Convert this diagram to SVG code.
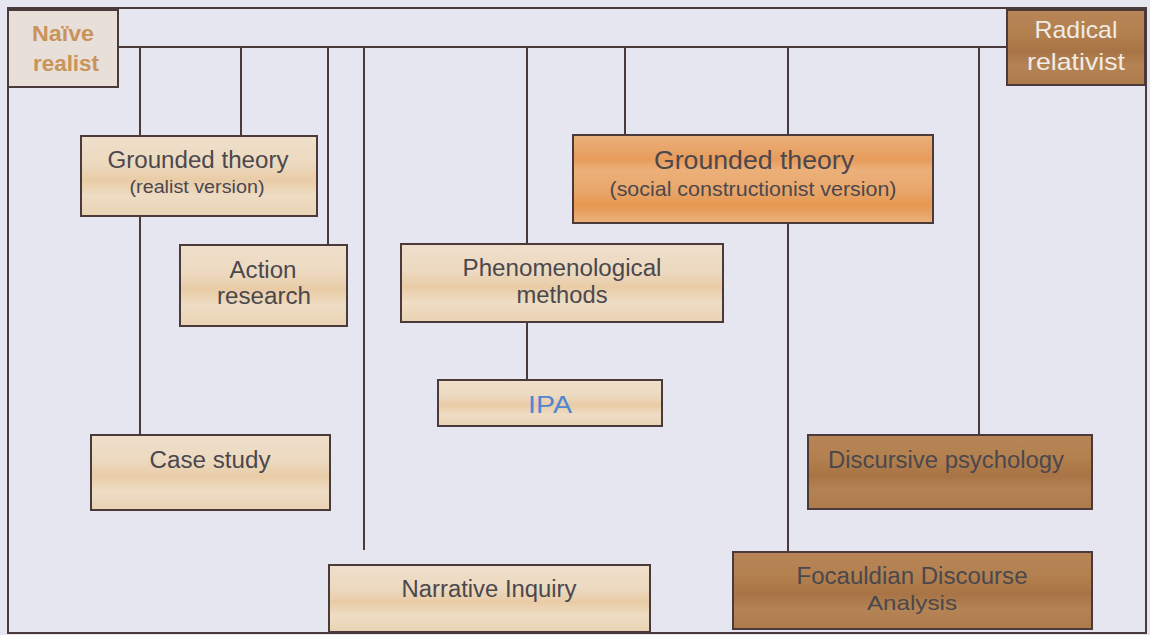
<svg xmlns="http://www.w3.org/2000/svg" width="1150" height="635" viewBox="0 0 1150 635">
  <defs>
    <!-- banded fills for the three box tones -->
    <linearGradient id="gLight" x1="0" y1="0" x2="0" y2="1">
      <stop offset="0" stop-color="#efdfca"/>
      <stop offset="0.35" stop-color="#ecd9c0"/>
      <stop offset="0.55" stop-color="#e9cca6"/>
      <stop offset="0.75" stop-color="#eedcc4"/>
      <stop offset="1" stop-color="#ead3b4"/>
    </linearGradient>
    <linearGradient id="gOrange" x1="0" y1="0" x2="0" y2="1">
      <stop offset="0" stop-color="#eab07c"/>
      <stop offset="0.28" stop-color="#e79c5c"/>
      <stop offset="0.4" stop-color="#ecb07a"/>
      <stop offset="0.62" stop-color="#e9a76c"/>
      <stop offset="0.8" stop-color="#e6984f"/>
      <stop offset="1" stop-color="#eab27e"/>
    </linearGradient>
    <linearGradient id="gBrown" x1="0" y1="0" x2="0" y2="1">
      <stop offset="0" stop-color="#b88558"/>
      <stop offset="0.3" stop-color="#b3804f"/>
      <stop offset="0.55" stop-color="#a87445"/>
      <stop offset="0.75" stop-color="#b58454"/>
      <stop offset="1" stop-color="#ad7a4a"/>
    </linearGradient>
    <style>
      .box { stroke: #4a3a3c; stroke-width: 2; }
      .light { fill: url(#gLight); }
      .orange { fill: url(#gOrange); }
      .brown { fill: url(#gBrown); }
      .wire { stroke: #4a3a3c; stroke-width: 2; fill: none; }
      text { font-family: "Liberation Sans", Arial, sans-serif; text-anchor: middle; fill: #4b484d; }
      .t23 { font-size: 23px; }
      .t17 { font-size: 17.5px; }
      .t21 { font-size: 21px; }
      .pale { fill: #f1ebe6; font-size: 24px; }
      .naive { fill: #c9935a; font-size: 22px; font-weight: bold; }
    </style>
  </defs>

  <rect width="1150" height="635" fill="#e5e6f0"/>

  <!-- frame and connector lines -->
  <g id="connectors" class="wire">
    <rect x="8" y="8" width="1138" height="625"/>
    <line x1="118" y1="47" x2="1007" y2="47"/>
    <line x1="140" y1="47" x2="140" y2="136"/>
    <line x1="140" y1="216" x2="140" y2="435"/>
    <line x1="241" y1="47" x2="241" y2="136"/>
    <line x1="328" y1="47" x2="328" y2="245"/>
    <line x1="364" y1="47" x2="364" y2="550"/>
    <line x1="527" y1="47" x2="527" y2="244"/>
    <line x1="527" y1="322" x2="527" y2="380"/>
    <line x1="625" y1="47" x2="625" y2="135"/>
    <line x1="788" y1="47" x2="788" y2="135"/>
    <line x1="788" y1="223" x2="788" y2="552"/>
    <line x1="979" y1="47" x2="979" y2="435"/>
  </g>

  <g id="naive-realist">
    <rect class="box" x="8" y="10" width="110" height="77" fill="#e7dfd8"/>
    <text x="63" y="41" class="naive" textLength="62" lengthAdjust="spacingAndGlyphs">Naïve</text>
    <text x="66" y="71" class="naive" textLength="66" lengthAdjust="spacingAndGlyphs">realist</text>
  </g>

  <g id="radical-relativist">
    <rect class="box brown" x="1007" y="10" width="138" height="75"/>
    <text x="1076" y="38" class="pale" textLength="83" lengthAdjust="spacingAndGlyphs">Radical</text>
    <text x="1076" y="70" class="pale" textLength="98" lengthAdjust="spacingAndGlyphs">relativist</text>
  </g>

  <g id="grounded-realist">
    <rect class="box light" x="81" y="136" width="236" height="80"/>
    <text x="198" y="168" class="t23" textLength="181" lengthAdjust="spacingAndGlyphs">Grounded theory</text>
    <text x="197" y="193" class="t17" textLength="135" lengthAdjust="spacingAndGlyphs">(realist version)</text>
  </g>

  <g id="action-research">
    <rect class="box light" x="180" y="245" width="167" height="81"/>
    <text x="263" y="278" class="t23" textLength="67" lengthAdjust="spacingAndGlyphs">Action</text>
    <text x="264" y="304" class="t23" textLength="94" lengthAdjust="spacingAndGlyphs">research</text>
  </g>

  <g id="phenomenological">
    <rect class="box light" x="401" y="244" width="322" height="78"/>
    <text x="562" y="276" class="t23" textLength="199" lengthAdjust="spacingAndGlyphs">Phenomenological</text>
    <text x="562" y="303" class="t23" textLength="91" lengthAdjust="spacingAndGlyphs">methods</text>
  </g>

  <g id="grounded-social">
    <rect class="box orange" x="573" y="135" width="360" height="88"/>
    <text x="754" y="169" style="font-size:26px" textLength="200" lengthAdjust="spacingAndGlyphs">Grounded theory</text>
    <text x="753" y="196" class="t21" textLength="287" lengthAdjust="spacingAndGlyphs">(social constructionist version)</text>
  </g>

  <g id="ipa">
    <rect class="box light" x="438" y="380" width="224" height="46"/>
    <text x="550" y="413" style="font-size:24px;fill:#4f86d4" textLength="44" lengthAdjust="spacingAndGlyphs">IPA</text>
  </g>

  <g id="case-study">
    <rect class="box light" x="91" y="435" width="239" height="75"/>
    <text x="210" y="468" class="t23" textLength="121" lengthAdjust="spacingAndGlyphs">Case study</text>
  </g>

  <g id="narrative-inquiry">
    <rect class="box light" x="329" y="565" width="321" height="67"/>
    <text x="489" y="597" class="t23" textLength="175" lengthAdjust="spacingAndGlyphs">Narrative Inquiry</text>
  </g>

  <g id="discursive-psychology">
    <rect class="box brown" x="808" y="435" width="284" height="74"/>
    <text x="946" y="468" class="t23" textLength="236" lengthAdjust="spacingAndGlyphs">Discursive psychology</text>
  </g>

  <g id="foucauldian">
    <rect class="box brown" x="733" y="552" width="359" height="77"/>
    <text x="912" y="584" class="t23" textLength="231" lengthAdjust="spacingAndGlyphs">Focauldian Discourse</text>
    <text x="912" y="610" class="t21" textLength="90" lengthAdjust="spacingAndGlyphs">Analysis</text>
  </g>
</svg>
